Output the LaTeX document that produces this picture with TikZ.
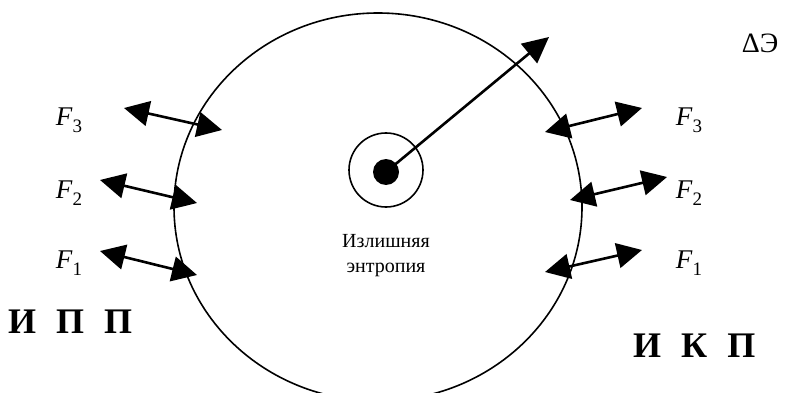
\documentclass[tikz,border=0pt]{standalone}
\usepackage{fontspec}
\setmainfont{Liberation Serif}
\usetikzlibrary{arrows.meta, positioning}

\newcommand{\forcelab}[1]{\textit{F}\raisebox{-7pt}{\fontsize{19}{19}\selectfont #1}}

\begin{document}
\begin{tikzpicture}[
    x=1pt, y=-1pt,
    force/.style={{Triangle[length=25pt,width=25pt]}-{Triangle[length=25pt,width=25pt]}, line width=2.6pt},
    outflow/.style={-{Triangle[length=26pt,width=25pt]}, line width=2.6pt},
    flabel/.style={font=\fontsize{27}{30}\selectfont, inner sep=0pt},
    side/.style={font=\fontsize{36}{40}\selectfont\bfseries, inner sep=0pt},
]
    \useasboundingbox (0,0) rectangle (789,393);
    \clip (0,0) rectangle (789,393);

    % Cell boundary
    \draw[line width=1.6pt] (378,207) ellipse [x radius=204, y radius=194];

    % Nucleus
    \node[circle, draw, line width=1.6pt, minimum size=74pt, inner sep=0pt] (nucleus) at (386,170) {};
    \node[circle, fill, minimum size=26pt, inner sep=0pt] (core) at (386,172) {};
    \coordinate (entropy) at (549,37);
    \draw[outflow] (core.center) -- (entropy);
    \node[font=\fontsize{28}{30}\selectfont, inner sep=0pt] (delta) at (760,43) {ΔЭ};

    \node[font=\fontsize{20}{25}\selectfont, align=center] (excess) at (386,256) {Излишняя\\энтропия};

    % Left side forces
    \coordinate (l3a) at (124,108); \coordinate (l3b) at (222,130);
    \coordinate (l2a) at (100,180); \coordinate (l2b) at (197,203);
    \coordinate (l1a) at (100,251); \coordinate (l1b) at (197,275);
    \draw[force] (l3a) -- (l3b);
    \draw[force] (l2a) -- (l2b);
    \draw[force] (l1a) -- (l1b);
    \node[flabel] (lf3) at (69,120) {\forcelab{3}};
    \node[flabel] (lf2) at (69,193) {\forcelab{2}};
    \node[flabel] (lf1) at (69,263) {\forcelab{1}};

    % Right side forces
    \coordinate (r3a) at (545,132); \coordinate (r3b) at (642,108);
    \coordinate (r2a) at (570,200); \coordinate (r2b) at (667,177);
    \coordinate (r1a) at (545,272); \coordinate (r1b) at (642,250);
    \draw[force] (r3a) -- (r3b);
    \draw[force] (r2a) -- (r2b);
    \draw[force] (r1a) -- (r1b);
    \node[flabel] (rf3) at (689,120) {\forcelab{3}};
    \node[flabel] (rf2) at (689,193) {\forcelab{2}};
    \node[flabel] (rf1) at (689,263) {\forcelab{1}};

    % Side captions
    \node[side, anchor=west] (ipp) at (8,322) {И\hspace{20pt}П\hspace{20pt}П};
    \node[side, anchor=west] (ikp) at (633,346) {И\hspace{20pt}К\hspace{20pt}П};

\end{tikzpicture}
\end{document}
